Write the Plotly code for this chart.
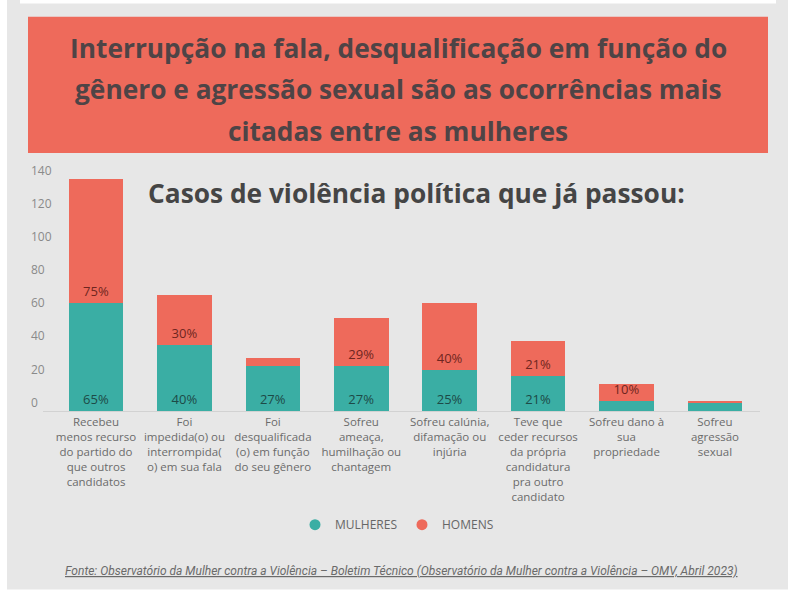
import plotly.graph_objects as go

# ---------------- data ----------------
categorias = [
    "Recebeu<br>menos recurso<br>do partido do<br>que outros<br>candidatos",
    "Foi<br>impedida(o) ou<br>interrompida(<br>o) em sua fala",
    "Foi<br>desqualificada<br>(o) em função<br>do seu gênero",
    "Sofreu<br>ameaça,<br>humilhação ou<br>chantagem",
    "Sofreu calúnia,<br>difamação ou<br>injúria",
    "Teve que<br>ceder recursos<br>da própria<br>candidatura<br>pra outro<br>candidato",
    "Sofreu dano à<br>sua<br>propriedade",
    "Sofreu<br>agressão<br>sexual",
]
mulheres = [65, 40, 27, 27, 25, 21, 6, 5]
homens = [75, 30, 5, 29, 40, 21, 10, 1]
mulheres_rotulos = ["65%", "40%", "27%", "27%", "25%", "21%", "", ""]
homens_rotulos = ["75%", "30%", "", "29%", "40%", "21%", "10%", ""]
y_ticks = [0, 20, 40, 60, 80, 100, 120, 140]

titulo_linhas = [
    "Interrupção na fala, desqualificação em função do",
    "gênero e agressão sexual são as ocorrências mais",
    "citadas entre as mulheres",
]
subtitulo = "Casos de violência política que já passou:"
fonte = ("Fonte: Observatório da Mulher contra a Violência – Boletim Técnico "
         "(Observatório da Mulher contra a Violência – OMV, Abril 2023)")

# ---------------- layout helpers ----------------
W, H = 800, 594
ML, MR, MT, MB = 27, 40, 153.9, 183.3
PW = W - ML - MR
PH = H - MT - MB


def px_x(x):
    return (x - ML) / PW


def px_y(y):
    return (H - MB - y) / PH


TEAL = "#3aaea4"
RED = "#ee6a5b"
BG = "#e7e7e7"

fig = go.Figure()
fig.add_trace(go.Bar(
    x=categorias, y=mulheres, name="MULHERES", marker=dict(color=TEAL, line=dict(width=0)),
    text=mulheres_rotulos, textposition="inside", insidetextanchor="start",
    constraintext="none", textangle=0,
    textfont=dict(family="Open Sans", size=13, color="#1d4a47"),
    showlegend=False, hoverinfo="skip",
))
fig.add_trace(go.Bar(
    x=categorias, y=homens, name="HOMENS", marker=dict(color=RED, line=dict(width=0)),
    text=homens_rotulos, textposition="inside", insidetextanchor="start",
    constraintext="none", textangle=0,
    textfont=dict(family="Open Sans", size=13, color="#6e2620"),
    showlegend=False, hoverinfo="skip",
))
# legend entries with round markers
fig.add_trace(go.Scatter(x=[None], y=[None], mode="markers", name="MULHERES",
                         marker=dict(color=TEAL, size=11, symbol="circle")))
fig.add_trace(go.Scatter(x=[None], y=[None], mode="markers", name="HOMENS",
                         marker=dict(color=RED, size=11, symbol="circle")))

shapes = [
    # grey card
    dict(type="rect", xref="paper", yref="paper", layer="below",
         x0=px_x(7), x1=px_x(788), y0=px_y(589), y1=px_y(0),
         fillcolor=BG, line=dict(width=0)),
    # white strip at the top
    dict(type="rect", xref="paper", yref="paper", layer="below",
         x0=px_x(20), x1=px_x(776), y0=px_y(3.5), y1=px_y(0),
         fillcolor="#ffffff", line=dict(width=0)),
    # red title box
    dict(type="rect", xref="paper", yref="paper", layer="below",
         x0=px_x(28), x1=px_x(768), y0=px_y(153), y1=px_y(16.7),
         fillcolor=RED, line=dict(width=0)),
]

annotations = []
for linha, yy in zip(titulo_linhas, [47.5, 89, 130.5]):
    annotations.append(dict(
        text="<b>" + linha + "</b>", xref="paper", yref="paper", x=px_x(398), y=px_y(yy),
        xanchor="center", yanchor="middle", showarrow=False,
        font=dict(family="Open Sans", size=26.3, color="#4e4446"),
    ))
annotations.append(dict(
    text="<b>" + subtitulo + "</b>", xref="paper", yref="paper", x=px_x(416), y=px_y(193),
    xanchor="center", yanchor="middle", showarrow=False,
    font=dict(family="Open Sans", size=26.3, color="#454545"),
))
annotations.append(dict(
    text="<i><u>" + fonte + "</u></i>", xref="paper", yref="paper", x=px_x(401), y=px_y(571),
    xanchor="center", yanchor="middle", showarrow=False,
    font=dict(family="Roboto", size=12, color="#6a6a6a"),
))

fig.update_layout(
    width=W, height=H,
    margin=dict(l=ML, r=MR, t=MT, b=MB, pad=0),
    paper_bgcolor="#ffffff", plot_bgcolor="rgba(0,0,0,0)",
    barmode="stack", bargap=0.383,
    shapes=shapes, annotations=annotations,
    showlegend=True,
    legend=dict(orientation="h", x=px_x(397), y=px_y(524.3), xanchor="center", yanchor="middle",
                font=dict(family="Open Sans", size=12, color="#666666"),
                bgcolor="rgba(0,0,0,0)", itemwidth=30, traceorder="normal"),
    xaxis=dict(domain=[px_x(43), 1], range=[-0.6, 7.51], showline=True, linecolor="#d2d2d2",
               linewidth=1, ticks="", showgrid=False, zeroline=False,
               tickfont=dict(family="Open Sans", size=11.5, color="#6b6b6b")),
    yaxis=dict(range=[0, 155], tickvals=y_ticks, showgrid=False, zeroline=False,
               showline=False, ticks="", anchor="free", position=0, side="left",
               ticklabelposition="inside top",
               tickfont=dict(family="Open Sans", size=12, color="#8a8a8a")),
    font=dict(family="Open Sans"),
)

fig.write_html("out.html", config={"displayModeBar": False},
               post_script="document.body.style.margin='0';")
